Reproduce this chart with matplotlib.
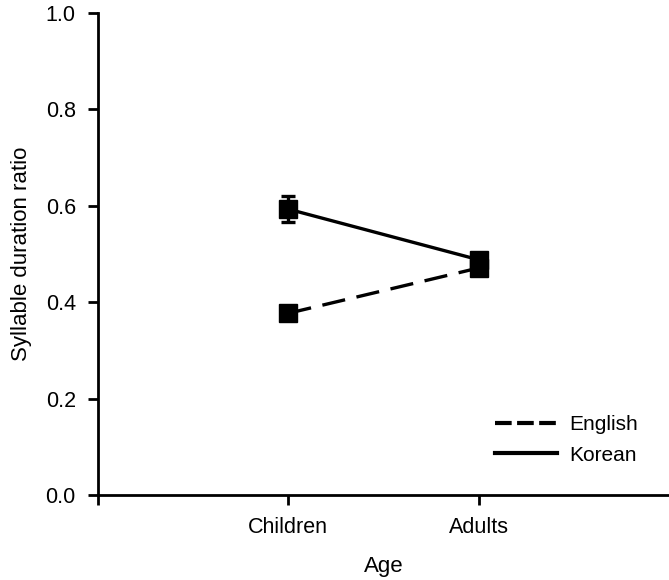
import matplotlib

matplotlib.use('agg')

import matplotlib.pyplot as plt
from matplotlib.lines import Line2D

plt.rcParams['font.family'] = ['Liberation Sans', 'DejaVu Sans']

ages = ['Children', 'Adults']
english = [0.377, 0.471]
english_err = [0.010, 0.010]
korean = [0.593, 0.488]
korean_err = [0.027, 0.012]
yticks = [0.0, 0.2, 0.4, 0.6, 0.8, 1.0]


def main():
    fig = plt.figure(figsize=(6.69, 5.80), dpi=100)
    ax = fig.add_axes([0.1465, 0.1466, 0.8535, 0.831])
    xs = [1, 2]
    dash = (7, 3.5)

    ax.errorbar(xs, english, yerr=english_err, color='black', lw=2.4,
                dashes=dash, marker='s', ms=12.5, capsize=5, capthick=2.4,
                elinewidth=2.4)
    ax.errorbar(xs, korean, yerr=korean_err, color='black', lw=2.4,
                marker='s', ms=12.5, capsize=5, capthick=2.4,
                elinewidth=2.4)

    ax.set_xlim(0, 3)
    ax.set_ylim(0, 1.0)
    ax.set_xticks([0] + xs)
    ax.set_xticklabels([''] + ages)
    ax.set_yticks(yticks)
    ax.set_yticklabels(['%.1f' % v for v in yticks])

    for side in ('top', 'right'):
        ax.spines[side].set_visible(False)
    for side in ('left', 'bottom'):
        ax.spines[side].set_linewidth(2.0)
    ax.tick_params(width=2.0, length=7, labelsize=15.5, pad=9)

    ax.set_xlabel('Age', fontsize=16, labelpad=13)
    ax.set_ylabel('Syllable duration ratio', fontsize=16, labelpad=10)

    handles = [Line2D([], [], color='black', lw=3, dashes=(4, 1.3)),
               Line2D([], [], color='black', lw=3)]
    ax.legend(handles, ['English', 'Korean'], loc='lower right',
              frameon=False, fontsize=15, handlelength=3.0,
              handletextpad=0.6, labelspacing=0.55,
              bbox_to_anchor=(0.979, 0.024))

    fig.savefig('out.png')


if __name__ == '__main__':
    main()
